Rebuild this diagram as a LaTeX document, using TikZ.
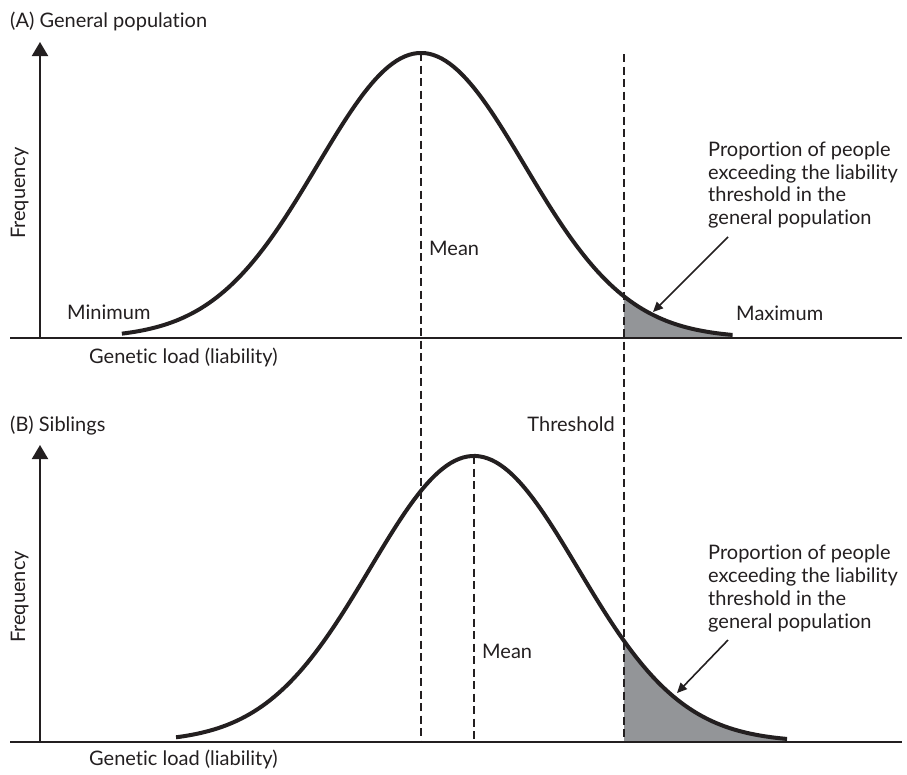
\documentclass[tikz,border=0pt]{standalone}
\usepackage{fontspec}
\setmainfont{Lato}[Ligatures=NoCommon]
\usetikzlibrary{arrows.meta}
\definecolor{ink}{HTML}{231F20}
\definecolor{tailgray}{HTML}{939598}
\begin{document}
\begin{tikzpicture}[x=1pt,y=-1pt,
  lbl/.style={font=\fontsize{20}{22.7}\selectfont, text=ink, inner sep=0pt},
  axis/.style={draw=ink, line width=2pt},
  curve/.style={draw=ink, line width=4pt},
  guide/.style={draw=ink, line width=2.2pt, dash pattern=on 8pt off 4.5pt},
  pointer/.style={draw=ink, line width=1.6pt, -{Triangle[length=10pt,width=9pt]}},
  tail/.style={fill=tailgray},
  yarrow/.style={-{Triangle[length=14pt,width=16pt]}}]
\useasboundingbox (0,0) rectangle (907,774);
% ---------- coordinates ----------
\coordinate (aL) at (10,338);   \coordinate (aR) at (902,338);
\coordinate (aO) at (40,338);   \coordinate (aTop) at (40,42);
\coordinate (bL) at (10,742);   \coordinate (bR) at (902,742);
\coordinate (bO) at (40,742);   \coordinate (bTop) at (40,445);
\coordinate (meanATop) at (421,53);  \coordinate (meanABot) at (421,742);
\coordinate (thrTop) at (624,54);    \coordinate (thrBot) at (624,742);
\coordinate (meanBTop) at (474,456); \coordinate (meanBBot) at (474,742);
\coordinate (ptrAStart) at (728,237); \coordinate (ptrATip) at (653,312);
\coordinate (ptrBStart) at (728,640); \coordinate (ptrBTip) at (677,693);
% ---------- shaded tails ----------
\fill[tail] (624,338) -- plot[variable=\t,domain=1.961:3.01,samples=40] ({421+103.5*\t},{338-285*exp(-0.5*\t*\t)}) -- (732.5,338) -- cycle;
\fill[tail] (624,742) -- plot[variable=\t,domain=1.442:3.01,samples=40] ({474+104*\t},{742-286*exp(-0.5*\t*\t)}) -- (787,742) -- cycle;
% ---------- dashed guides ----------
\draw[guide] (meanATop) -- (meanABot);
\draw[guide] (thrTop) -- (thrBot);
\draw[guide] (meanBTop) -- (meanBBot);
% ---------- axes ----------
\draw[axis] (aL) -- (aR);
\draw[axis,yarrow] (aO) -- (aTop);
\draw[axis] (bL) -- (bR);
\draw[axis,yarrow] (bO) -- (bTop);
% ---------- curves ----------
\draw[curve] plot[variable=\t,domain=-2.89:3.01,samples=150] ({421+103.5*\t},{338-285*exp(-0.5*\t*\t)});
\draw[curve] plot[variable=\t,domain=-2.865:3.01,samples=150] ({474+104*\t},{742-286*exp(-0.5*\t*\t)});
% ---------- labels panel A ----------
\node[lbl,anchor=base west] (titleA) at (10,27) {(A) General population};
\node[lbl,anchor=base,rotate=90] (freqA) at (25,193) {Frequency};
\node[lbl,anchor=base west] (minA) at (67,319) {Minimum};
\node[lbl,anchor=base west] (maxA) at (736,320) {Maximum};
\node[lbl,anchor=base west] (xlabA) at (89,363) {Genetic load (liability)};
\node[lbl,anchor=base west] (meanA) at (429,255) {Mean};
\node[lbl,anchor=north west,align=left] (noteA) at (708,141.5) {Proportion of people\\exceeding the liability\\threshold in the\\general population};
\draw[pointer] (ptrAStart) -- (ptrATip);
% ---------- labels panel B ----------
\node[lbl,anchor=base west] (titleB) at (10,431) {(B) Siblings};
\node[lbl,anchor=base east] (thrLbl) at (615,431) {Threshold};
\node[lbl,anchor=base,rotate=90] (freqB) at (25,597) {Frequency};
\node[lbl,anchor=base west] (xlabB) at (89,765) {Genetic load (liability)};
\node[lbl,anchor=base west] (meanB) at (482,658) {Mean};
\node[lbl,anchor=north west,align=left] (noteB) at (708,545) {Proportion of people\\exceeding the liability\\threshold in the\\general population};
\draw[pointer] (ptrBStart) -- (ptrBTip);
\end{tikzpicture}
\end{document}
